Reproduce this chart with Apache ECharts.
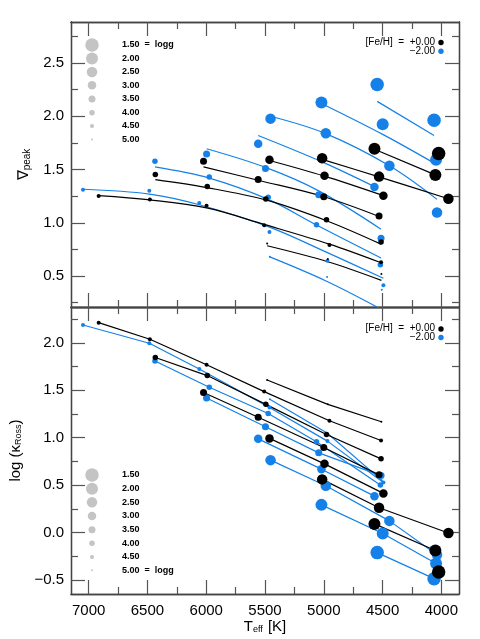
<!DOCTYPE html>
<html><head><meta charset="utf-8">
<script src="https://cdn.jsdelivr.net/npm/echarts@6/dist/echarts.min.js"></script>
<style>html,body{margin:0;padding:0;background:#fff}#c{width:480px;height:639px}</style>
</head><body><div id="c"></div>
<script>
// ---- data ----
const loggs = [1.5, 2.0, 2.5, 3.0, 3.5, 4.0, 4.5, 5.0];
const loggLabels = ['1.50', '2.00', '2.50', '3.00', '3.50', '4.00', '4.50', '5.00'];
const metLabels = ['+0.00', '\u22122.00'];

// top panel: grad_peak points, index = logg index, [Teff, value]
const nablaSolar = [
  [[4023, 1.651]],
  [[4569, 1.695], [4051, 1.45]],
  [[5014, 1.607], [4530, 1.434], [3940, 1.226]],
  [[5462, 1.592], [4994, 1.441], [4493, 1.255]],
  [[6023, 1.578], [5558, 1.406], [5000, 1.245], [4530, 1.063]],
  [[6433, 1.453], [5991, 1.34], [5493, 1.224], [4977, 1.028], [4513, 0.821]],
  [[6915, 1.252], [6479, 1.22], [5997, 1.16], [5507, 0.978], [4952, 0.792], [4513, 0.629]],
  [[5482, 0.805], [4966, 0.66], [4510, 0.519]]
];
const nablaPoor = [
  [[4546, 2.299], [4062, 1.962]],
  [[5020, 2.129], [4499, 1.925], [4045, 1.592]],
  [[5453, 1.978], [4983, 1.84], [4442, 1.535], [4037, 1.097]],
  [[5558, 1.742], [5020, 1.60], [4569, 1.337]],
  [[5997, 1.645], [5496, 1.509], [5043, 1.264], [4513, 0.856]],
  [[6436, 1.578], [5974, 1.431], [5473, 1.239], [5062, 0.981], [4519, 0.607]],
  [[7048, 1.311], [6484, 1.302], [6059, 1.186], [5462, 0.915], [4969, 0.644], [4493, 0.415]],
  [[5459, 0.682], [4972, 0.491], [4507, 0.371]]
];
// top panel: fitted curves
const nablaFitSolar = [
  [],
  [[4569, 1.69], [4051, 1.45]],
  [[5014, 1.595], [4530, 1.432], [3940, 1.226]],
  [[5462, 1.585], [4994, 1.438], [4493, 1.255]],
  [[6023, 1.525], [5558, 1.40], [5000, 1.245], [4530, 1.06]],
  [[6433, 1.405], [5991, 1.33], [5493, 1.215], [4977, 1.02], [4513, 0.80]],
  [[6915, 1.255], [6479, 1.215], [5997, 1.14], [5507, 0.985], [4952, 0.80], [4513, 0.625]],
  [[5482, 0.785], [4966, 0.635], [4510, 0.46]]
];
const nablaFitPoor = [
  [[4546, 2.14], [4062, 1.82]],
  [[5020, 2.12], [4499, 1.83], [4045, 1.55]],
  [[5453, 2.00], [4983, 1.837], [4442, 1.535], [4037, 1.22]],
  [[5558, 1.82], [5010, 1.57], [4569, 1.34]],
  [[5997, 1.695], [5496, 1.52], [5043, 1.30], [4513, 0.94]],
  [[6436, 1.525], [5974, 1.42], [5473, 1.22], [5062, 0.98], [4513, 0.67]],
  [[7048, 1.315], [6484, 1.27], [6059, 1.17], [5462, 0.96], [4969, 0.72], [4493, 0.48]],
  [[5459, 0.68], [4972, 0.45], [4530, 0.20]]
];
// bottom panel: log kappa_Ross
const kappaSolar = [
  [[4023, -0.418]],
  [[4569, 0.09], [4051, -0.19]],
  [[5014, 0.56], [4530, 0.26], [3940, -0.006]],
  [[5462, 0.993], [4994, 0.724], [4493, 0.412]],
  [[6023, 1.478], [5558, 1.216], [5000, 0.897], [4530, 0.608]],
  [[6433, 1.847], [5991, 1.656], [5493, 1.352], [4977, 1.034], [4513, 0.777]],
  [[6915, 2.215], [6479, 2.039], [5997, 1.771], [5507, 1.487], [4952, 1.179], [4513, 0.971]],
  [[5482, 1.609], [4966, 1.352], [4510, 1.168]]
];
const kappaPoor = [
  [[4546, -0.213], [4062, -0.488]],
  [[5020, 0.291], [4499, -0.012], [4045, -0.329]],
  [[5453, 0.763], [4983, 0.492], [4442, 0.122], [4037, -0.235]],
  [[5558, 0.988], [5020, 0.668], [4569, 0.383]],
  [[5997, 1.419], [5496, 1.115], [5043, 0.84], [4513, 0.60]],
  [[6436, 1.81], [5974, 1.532], [5473, 1.256], [5062, 0.957], [4519, 0.502]],
  [[7048, 2.19], [6484, 1.997], [6059, 1.725], [5462, 1.32], [4969, 0.964], [4493, 0.528]],
  [[5459, 1.405], [4972, 1.05], [4507, 0.55]]
];
const teffTicks = [4000, 4500, 5000, 5500, 6000, 6500, 7000];
const teffMinor = [4250, 4750, 5250, 5750, 6250, 6750];
const nablaTicks = [0.5, 1.0, 1.5, 2.0, 2.5];
const nablaMinor = [0.25, 0.75, 1.25, 1.75, 2.25, 2.75];
const kappaTicks = [-0.5, 0.0, 0.5, 1.0, 1.5, 2.0];
const kappaMinor = [-0.25, 0.25, 0.75, 1.25, 1.75, 2.25];

// ---- style ----
const sizes = [13.5, 12, 10.5, 8.5, 7, 5.5, 4, 2];
const BLACK = '#000000', BLUE = '#1480e8', GRAY = '#c4c4c4', FRAME = '#444444';
const FONT = 'Liberation Sans';
const L = 71, R = 459, T1 = 22, B1 = 307, B2 = 594;

const chart = echarts.init(document.getElementById('c'), null, {renderer: 'canvas'});

function fmt(v) { return (v < 0 ? '\u2212' : '') + Math.abs(v).toFixed(1); }
function fmtT(v) { return String(Math.round(v)); }

const xAxes = [], yAxes = [];
function addX(grid, pos, vals, len, labels, extra) {
  xAxes.push(Object.assign({
    gridIndex: grid, type: 'value', position: pos, min: 3850, max: 7150, inverse: true,
    axisLine: {show: true, onZero: false, lineStyle: {color: FRAME, width: 1.3}},
    axisTick: {show: true, inside: true, length: len, customValues: vals, lineStyle: {color: '#555', width: 1.2}},
    axisLabel: labels ? {show: true, customValues: vals, formatter: fmtT, color: '#000', fontFamily: FONT, fontSize: 15, margin: 9} : {show: false},
    splitLine: {show: false}
  }, extra || {}));
}
function addY(grid, pos, mn, mx, vals, len, labels, extra) {
  yAxes.push(Object.assign({
    gridIndex: grid, type: 'value', position: pos, min: mn, max: mx,
    axisLine: {show: true, onZero: false, lineStyle: {color: FRAME, width: 1.3}},
    axisTick: {show: true, inside: true, length: len, customValues: vals, lineStyle: {color: '#555', width: 1.2}},
    axisLabel: labels ? {show: true, customValues: vals, formatter: fmt, color: '#000', fontFamily: FONT, fontSize: 15, margin: 7} : {show: false},
    splitLine: {show: false}
  }, extra || {}));
}
// top panel axes
addX(0, 'bottom', teffTicks, 14, false);
addX(0, 'bottom', teffMinor, 7, false);
addX(0, 'top', teffTicks, 14, false);
addX(0, 'top', teffMinor, 7, false);
// bottom panel axes
addX(1, 'bottom', teffTicks, 14, true, {
  name: 'T{s|eff} [K]', nameLocation: 'middle', nameGap: 22,
  nameTextStyle: {fontFamily: FONT, fontSize: 15, color: '#000',
    rich: {s: {fontFamily: FONT, fontSize: 9, color: '#000', padding: [7, 1, 0, 0], verticalAlign: 'bottom'}}}
});
addX(1, 'bottom', teffMinor, 7, false);
addX(1, 'top', teffTicks, 14, false);
addX(1, 'top', teffMinor, 7, false);

addY(0, 'left', 0.21, 2.885, nablaTicks, 14, true, {
  name: '\u2207{s|peak}', nameLocation: 'middle', nameGap: 28, nameRotate: 90,
  nameTextStyle: {fontFamily: FONT, fontSize: 15, color: '#000',
    rich: {s: {fontFamily: FONT, fontSize: 10, color: '#000', padding: [7, 0, 0, 0], verticalAlign: 'bottom'}}}
});
addY(0, 'left', 0.21, 2.885, nablaMinor, 7, false);
addY(0, 'right', 0.21, 2.885, nablaTicks, 14, false);
addY(0, 'right', 0.21, 2.885, nablaMinor, 7, false);
addY(1, 'left', -0.65, 2.38, kappaTicks, 14, true, {
  name: 'log (\u03ba{s|Ross})', nameLocation: 'middle', nameGap: 42, nameRotate: 90,
  nameTextStyle: {fontFamily: FONT, fontSize: 15, color: '#000',
    rich: {s: {fontFamily: FONT, fontSize: 9, color: '#000', padding: [7, 0, 0, 0], verticalAlign: 'bottom'}}}
});
addY(1, 'left', -0.65, 2.38, kappaMinor, 7, false);
addY(1, 'right', -0.65, 2.38, kappaTicks, 14, false);
addY(1, 'right', -0.65, 2.38, kappaMinor, 7, false);

const series = [];
const mets = [
  {color: BLUE, nabla: nablaPoor, fit: nablaFitPoor, kappa: kappaPoor},
  {color: BLACK, nabla: nablaSolar, fit: nablaFitSolar, kappa: kappaSolar}
];
// fits (top)
mets.forEach(m => {
  m.fit.forEach((arr, i) => {
    if (!arr.length) return;
    series.push({type: 'line', xAxisIndex: 0, yAxisIndex: 0, data: arr, smooth: 0.35,
      showSymbol: false, silent: true, lineStyle: {color: m.color, width: 1.2}, itemStyle: {color: m.color}, z: 2});
  });
});
// points (top)
mets.forEach(m => {
  m.nabla.forEach((arr, i) => {
    series.push({type: 'scatter', xAxisIndex: 0, yAxisIndex: 0, data: arr, symbol: 'circle',
      symbolSize: sizes[i], itemStyle: {color: m.color, opacity: 1}, z: 3, silent: true});
  });
});
// bottom: connected points
mets.forEach(m => {
  m.kappa.forEach((arr, i) => {
    series.push({type: 'line', xAxisIndex: 4, yAxisIndex: 4, data: arr, symbol: 'circle',
      symbolSize: sizes[i], showSymbol: true, showAllSymbol: true, silent: true,
      lineStyle: {color: m.color, width: 1.2}, itemStyle: {color: m.color, borderWidth: 0}, z: 3});
  });
});

// legends (graphic)
const graphic = [];
const topLegY = [45, 58.5, 72, 85.3, 99, 112.7, 126, 139.5];
const botLegY = [475, 488.7, 502.3, 516, 529.7, 543.3, 557, 570.3];
loggs.forEach((g, i) => {
  graphic.push({type: 'circle', shape: {cx: 92, cy: topLegY[i], r: sizes[i] / 2}, style: {fill: GRAY}, z: 10});
  graphic.push({type: 'text', x: 122, y: topLegY[i], style: {text: loggLabels[i] + (i === 0 ? '  =  logg' : ''),
    fill: '#000', font: 'bold 9px ' + FONT, textVerticalAlign: 'middle'}, z: 10});
  graphic.push({type: 'circle', shape: {cx: 92, cy: botLegY[i], r: sizes[i] / 2}, style: {fill: GRAY}, z: 10});
  graphic.push({type: 'text', x: 122, y: botLegY[i], style: {text: loggLabels[i] + (i === loggs.length - 1 ? '  =  logg' : ''),
    fill: '#000', font: 'bold 9px ' + FONT, textVerticalAlign: 'middle'}, z: 10});
});
[[42, 50.8], [328.5, 337]].forEach(ys => {
  graphic.push({type: 'text', x: 435, y: ys[0], style: {text: '[Fe/H]  =  ' + metLabels[0], fill: '#000',
    font: '10px ' + FONT, textAlign: 'right', textVerticalAlign: 'middle'}, z: 10});
  graphic.push({type: 'text', x: 435, y: ys[1], style: {text: metLabels[1], fill: '#000',
    font: '10px ' + FONT, textAlign: 'right', textVerticalAlign: 'middle'}, z: 10});
  graphic.push({type: 'circle', shape: {cx: 441, cy: ys[0] + 0.5, r: 2.7}, style: {fill: BLACK}, z: 10});
  graphic.push({type: 'circle', shape: {cx: 441, cy: ys[1] + 0.5, r: 2.7}, style: {fill: BLUE}, z: 10});
});

chart.setOption({
  animation: false,
  backgroundColor: '#fff',
  grid: [
    {left: L, width: R - L, top: T1, height: B1 - T1, containLabel: false},
    {left: L, width: R - L, top: B1, height: B2 - B1, containLabel: false}
  ],
  xAxis: xAxes,
  yAxis: yAxes,
  series: series,
  graphic: graphic
});
</script>
</body></html>
